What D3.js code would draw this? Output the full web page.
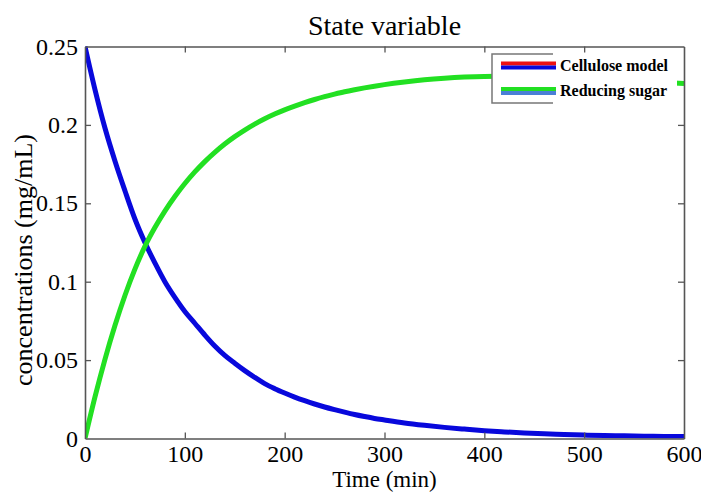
<!DOCTYPE html>
<html>
<head>
<meta charset="utf-8">
<script src="https://cdn.jsdelivr.net/npm/d3@7"></script>
<style>
  html, body { margin: 0; padding: 0; background: #fff; }
  svg { display: block; font-family: "Liberation Serif", "Times New Roman", serif; }
</style>
</head>
<body>
<svg id="chart" width="701" height="495"></svg>
<script>
// ---- data ----
const timeMin = [0,10,20,30,40,50,60,70,80,90,100,110,120,130,140,150,160,170,180,190,200,
  210,220,230,240,250,260,270,280,290,300,320,340,360,380,400,420,440,460,480,500,520,540,560,580,600];
const cellulose = [0.250,0.2225,0.198,0.177,0.158,0.140,0.125,0.112,0.100,0.090,0.081,0.0735,0.066,0.059,0.053,0.048,0.0433,0.039,0.035,0.0318,0.0290,
  0.0264,0.0241,0.0220,0.0201,0.0184,0.0168,0.0153,0.0140,0.0128,0.0118,0.0099,0.0084,0.0071,0.0060,0.0050,0.0042,0.0035,0.0030,0.0026,0.0022,0.0019,0.0017,0.0015,0.0013,0.0012];
const reducingSugar = [0,0.0265,0.0505,0.0720,0.0912,0.1080,0.1225,0.1345,0.1450,0.1543,0.1626,0.1700,0.1766,0.1825,0.1878,0.1925,0.1967,0.2005,0.2039,0.2069,0.2096,
  0.2120,0.2142,0.2162,0.2180,0.2196,0.2211,0.2224,0.2236,0.2247,0.2257,0.2274,0.2288,0.2298,0.2305,0.2309,0.2310,0.2309,0.2305,0.2300,0.2293,0.2286,0.2280,0.2274,0.2269,0.2264];
const xTicks = [0,100,200,300,400,500,600];
const yTicks = [0,0.05,0.1,0.15,0.2,0.25];
const yTickLabels = ["0","0.05","0.1","0.15","0.2","0.25"];
const legendLabels = ["Cellulose model","Reducing sugar"];

// ---- layout ----
const L = 85, R = 684, T = 46.5, B = 438.5;
const svg = d3.select("#chart");
const x = d3.scaleLinear().domain([0,600]).range([L,R]);
const y = d3.scaleLinear().domain([0,0.25]).range([B,T]);
const axisColor = "#555";

// clip
svg.append("clipPath").attr("id","plotclip")
  .append("rect").attr("x",L).attr("y",T-2).attr("width",R-L).attr("height",B-T+2);

// curves
const line = d3.line().x((d,i)=>x(timeMin[i])).y(d=>y(d)).curve(d3.curveMonotoneX);
const g = svg.append("g").attr("clip-path","url(#plotclip)");
g.append("path").attr("d", line(cellulose)).attr("fill","none")
  .attr("stroke","#0808dc").attr("stroke-width",5).attr("stroke-linejoin","round");
g.append("path").attr("d", line(reducingSugar)).attr("fill","none")
  .attr("stroke","#22e022").attr("stroke-width",5).attr("stroke-linejoin","round");

// axes (inward ticks, all four sides)
const tickLen = 6;
const axB = svg.append("g").attr("transform",`translate(0,${B})`)
  .call(d3.axisBottom(x).tickValues(xTicks).tickSizeInner(-tickLen).tickSizeOuter(0).tickPadding(6));
const axT = svg.append("g").attr("transform",`translate(0,${T})`)
  .call(d3.axisTop(x).tickValues(xTicks).tickSizeInner(-tickLen).tickSizeOuter(0).tickFormat(""));
const axL = svg.append("g").attr("transform",`translate(${L},0)`)
  .call(d3.axisLeft(y).tickValues(yTicks).tickSizeInner(-tickLen).tickSizeOuter(0).tickPadding(7)
    .tickFormat((d,i)=>yTickLabels[i]));
const axR = svg.append("g").attr("transform",`translate(${R},0)`)
  .call(d3.axisRight(y).tickValues(yTicks).tickSizeInner(-tickLen).tickSizeOuter(0).tickFormat(""));
[axB,axT,axL,axR].forEach(a=>{
  a.select(".domain").attr("stroke",axisColor).attr("stroke-width",1.6);
  a.selectAll(".tick line").attr("stroke",axisColor).attr("stroke-width",1.3);
  a.selectAll("text").attr("font-family","Liberation Serif").attr("font-size",24).attr("fill","#000");
});
axB.selectAll("text").attr("dy","0.71em");
// remove end ticks that overlap the frame
[axB,axT].forEach(a=>a.selectAll(".tick").filter(d=>d===0||d===600).select("line").remove());
[axL,axR].forEach(a=>a.selectAll(".tick").filter(d=>d===0||d===0.25).select("line").remove());

// title and axis labels
svg.append("text").attr("x",(L+R)/2).attr("y",35).attr("text-anchor","middle")
  .attr("font-size",28).attr("fill","#000").text("State variable");
svg.append("text").attr("x",(L+R)/2).attr("y",487).attr("text-anchor","middle")
  .attr("font-size",23).attr("fill","#000").text("Time (min)");
svg.append("text").attr("transform","translate(32,260) rotate(-90)").attr("text-anchor","middle")
  .attr("font-size",26).attr("fill","#000").text("concentrations (mg/mL)");

// legend
const lg = svg.append("g");
lg.append("rect").attr("x",492).attr("y",54).attr("width",185).attr("height",49).attr("fill","#fff");
lg.append("path").attr("d","M553,54 H492 V103 H553").attr("fill","none").attr("stroke","#777").attr("stroke-width",1.5);
const legendColors = [["#ee1111","#0808dc"],["#22e022","#4a7fd6"]];
const rowY = [65.5, 91];
legendLabels.forEach((lab,i)=>{
  lg.append("line").attr("x1",501).attr("x2",556).attr("y1",rowY[i]-2).attr("y2",rowY[i]-2)
    .attr("stroke",legendColors[i][0]).attr("stroke-width",4);
  lg.append("line").attr("x1",501).attr("x2",556).attr("y1",rowY[i]+2).attr("y2",rowY[i]+2)
    .attr("stroke",legendColors[i][1]).attr("stroke-width",4);
  lg.append("text").attr("x",560).attr("y",rowY[i]+5).attr("font-size",16).attr("font-weight","bold")
    .attr("fill","#000").text(lab);
});
</script>
</body>
</html>
